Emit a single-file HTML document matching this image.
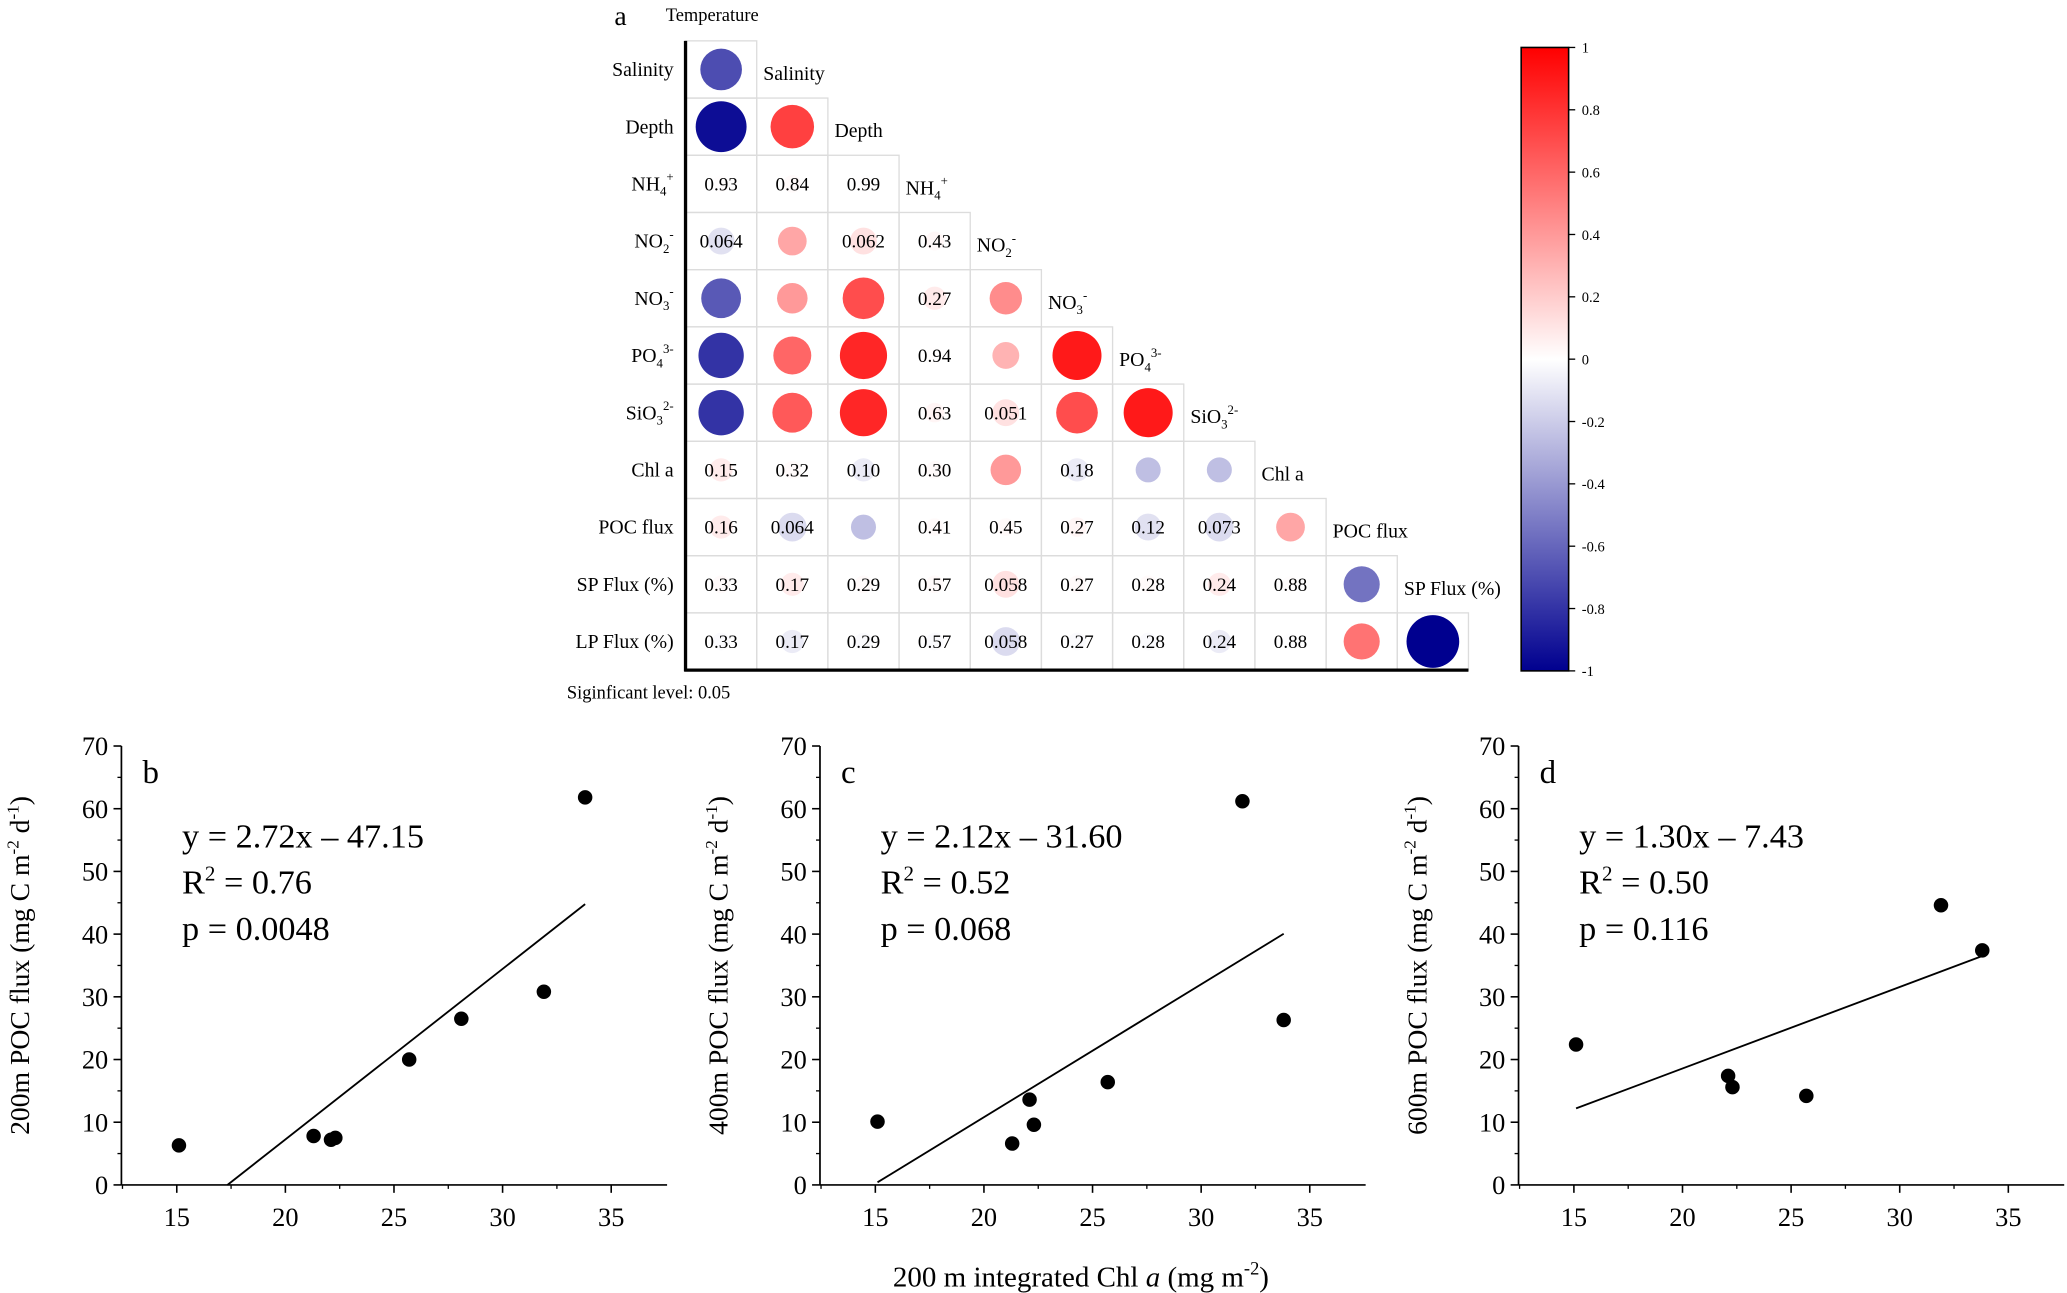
<!DOCTYPE html>
<html><head><meta charset="utf-8"><style>
html,body{margin:0;padding:0;background:#fff;}
svg{display:block;}
svg text{font-family:"Liberation Serif",serif;}
</style></head><body>
<svg id="fig" width="2067" height="1293" viewBox="0 0 1568 981" xmlns="http://www.w3.org/2000/svg" font-family="Liberation Serif, serif">
<defs><linearGradient id="cbg" x1="0" y1="1" x2="0" y2="0">
<stop offset="0" stop-color="#00008f"/><stop offset="0.5" stop-color="#ffffff"/><stop offset="1" stop-color="#ff0000"/></linearGradient></defs>
</svg>
<script>
// ---- correlation matrix data ----
const varNames = ["Temperature","Salinity","Depth","NH4+","NO2-","NO3-","PO43-","SiO32-","Chl a","POC flux","SP Flux (%)","LP Flux (%)"];
const corrR = [
 [-0.7],
 [-0.95,0.75],
 [0.02,0.05,0.01],
 [-0.3,0.35,0.3,0.08],
 [-0.65,0.4,0.7,0.2,0.45],
 [-0.8,0.6,0.85,0.01,0.3,0.9],
 [-0.8,0.65,0.85,0.1,0.3,0.7,0.9],
 [0.2,0.05,-0.2,0.05,0.4,-0.2,-0.25,-0.25],
 [0.2,-0.35,-0.25,0.05,0.05,0.1,-0.3,-0.35,0.35],
 [0.05,0.2,0.05,0.05,0.3,0.05,0.05,0.2,0.02,-0.55],
 [-0.05,-0.2,-0.05,-0.05,-0.35,-0.05,-0.05,-0.2,-0.02,0.55,-1]
];
const corrP = [
 [null],
 [null,null],
 ["0.93","0.84","0.99"],
 ["0.064",null,"0.062","0.43"],
 [null,null,null,"0.27",null],
 [null,null,null,"0.94",null,null],
 [null,null,null,"0.63","0.051",null,null],
 ["0.15","0.32","0.10","0.30",null,"0.18",null,null],
 ["0.16","0.064",null,"0.41","0.45","0.27","0.12","0.073",null],
 ["0.33","0.17","0.29","0.57","0.058","0.27","0.28","0.24","0.88",null],
 ["0.33","0.17","0.29","0.57","0.058","0.27","0.28","0.24","0.88",null,null]
];
const cbTicks = [1,0.8,0.6,0.4,0.2,0,-0.2,-0.4,-0.6,-0.8,-1];

// ---- scatter data ----
const chlB = [15.1,21.3,22.1,22.3,25.7,28.1,31.9,33.8];
const pocB = [6.3,7.8,7.2,7.5,20.0,26.5,30.8,61.8];
const chlC = [15.1,21.3,22.1,22.3,25.7,31.9,33.8];
const pocC = [10.1,6.6,13.6,9.6,16.4,61.2,26.3];
const chlD = [15.1,22.1,22.3,25.7,31.9,33.8];
const pocD = [22.4,17.4,15.6,14.2,44.6,37.4];
const slopes = [2.72,2.12,1.30];
const intercepts = [-47.15,-31.60,-7.43];
const fitRanges = [[17.33,33.8],[15.1,33.8],[15.1,33.8]];
const eqLabels = ["y = 2.72x \u2013 47.15","y = 2.12x \u2013 31.60","y = 1.30x \u2013 7.43"];
const r2Labels = ["0.76","0.52","0.50"];
const pLabels = ["p = 0.0048","p = 0.068","p = 0.116"];
const panelLetters = ["b","c","d"];
const depthLabels = ["200m","400m","600m"];
const xTicks = [15,20,25,30,35];
const yTicks = [0,10,20,30,40,50,60,70];

const NS="http://www.w3.org/2000/svg";
const svg=document.getElementById('fig');
function mk(tag,attrs,parent){const e=document.createElementNS(NS,tag);for(const k in attrs)e.setAttribute(k,attrs[k]);if(tag==='text')e.setAttribute('font-family','Liberation Serif, serif');(parent||svg).appendChild(e);return e;}
function color(r){
  if(r>=0){const g=Math.round(255*(1-r));return `rgb(255,${g},${g})`;}
  const t=-r;return `rgb(${Math.round(255*(1-t))},${Math.round(255*(1-t))},${Math.round(255-(255-143)*t)})`;
}
function labelText(parent,x,y,name,anchor,size){
  const t=mk('text',{x:x,y:y,'text-anchor':anchor,'font-size':size},parent);
  const m=name.match(/^([A-Za-z]+?)(\d)([+\-]|\d[+\-])$/);
  if(m){
    t.appendChild(document.createTextNode(m[1]));
    const s=mk('tspan',{dy:4,'font-size':size*0.65},t);s.textContent=m[2];
    const s2=mk('tspan',{dy:-11,'font-size':size*0.65},t);s2.textContent=m[3];
  } else t.textContent=name;
  return t;
}
// ---- matrix ----
const mx0=520,my0=31,cw=54,ch=43.4;
const mg=mk('g',{});


const pa=mk('text',{x:466,y:19,'font-size':21},mg);pa.textContent='a';

const tt=mk('text',{x:505,y:16,'font-size':14},mg);tt.textContent='Temperature';

for(let i=0;i<corrR.length;i++){
  const y=my0+i*ch,cy=y+ch/2;
  const rl=labelText(mg,511,cy+5,varNames[i+1],'end',15);
  
  if(i<corrR.length-1){
    const dl=labelText(mg,mx0+(i+1)*cw+5,cy+8,varNames[i+1],'start',15);
    
  }
  for(let j=0;j<=i;j++){
    const x=mx0+j*cw,cx=x+cw/2;
    const rc=mk('rect',{x:x,y:y,width:cw,height:ch,fill:'none',stroke:'#dcdcdc','stroke-width':1},mg);
    
    const r=corrR[i][j],p=corrP[i][j];
    const c=mk('circle',{cx:cx,cy:cy,r:6+14*Math.abs(r),fill:color(r),opacity:p?0.4:1},mg);
    
    if(p){const pt=mk('text',{x:cx,y:cy+5,'text-anchor':'middle','font-size':14.5},mg);pt.textContent=p;
      }
  }
}
const la=mk('line',{x1:mx0,y1:my0,x2:mx0,y2:my0+11*ch+1,stroke:'#000','stroke-width':2.5},mg);

const ba=mk('line',{x1:mx0-1,y1:my0+11*ch,x2:mx0+11*cw,y2:my0+11*ch,stroke:'#000','stroke-width':2.5},mg);

const sl=mk('text',{x:430,y:530,'font-size':14},mg);sl.textContent='Siginficant level: 0.05';

// colorbar
const cbx=1154,cbt=36,cbb=509;
const cb=mk('rect',{x:cbx,y:cbt,width:36,height:cbb-cbt,fill:'url(#cbg)',stroke:'#000','stroke-width':1.2});

cbTicks.forEach(v=>{
  const y=cbb-(v+1)/2*(cbb-cbt);
  const tl=mk('line',{x1:cbx+36,y1:y,x2:cbx+41,y2:y,stroke:'#000','stroke-width':1});
  
  const t=mk('text',{x:cbx+46,y:y+4,'font-size':11});t.textContent=v;
  
});
// ---- scatter panels ----
const panels=[[chlB,pocB],[chlC,pocC],[chlD,pocD]];
panels.forEach((d,k)=>{
  const ox=530*k, ax=92+ox, top=566, bot=899;
  const X=v=>ax+42+(v-15)*16.48, Y=v=>bot-v*(bot-top)/70;
  const g=mk('g',{});
  
  const yl=mk('line',{x1:ax,y1:top,x2:ax,y2:bot,stroke:'#000','stroke-width':1.3},g);
  
  const xl=mk('line',{x1:ax,y1:bot,x2:ax+414,y2:bot,stroke:'#000','stroke-width':1.3},g);
  
  yTicks.forEach(v=>{
    const tk=mk('line',{x1:ax-6,y1:Y(v),x2:ax,y2:Y(v),stroke:'#000','stroke-width':1.2},g);
    
    if(v<70){const mt=mk('line',{x1:ax-3,y1:Y(v+5),x2:ax,y2:Y(v+5),stroke:'#000','stroke-width':1},g);
      }
    const t=mk('text',{x:ax-10,y:Y(v)+7,'text-anchor':'end','font-size':20},g);t.textContent=v;
    
  });
  xTicks.forEach(v=>{
    const tk=mk('line',{x1:X(v),y1:bot,x2:X(v),y2:bot+6,stroke:'#000','stroke-width':1.2},g);
    
    const mt=mk('line',{x1:X(v-2.5),y1:bot,x2:X(v-2.5),y2:bot+3,stroke:'#000','stroke-width':1},g);
    
    const t=mk('text',{x:X(v),y:bot+31,'text-anchor':'middle','font-size':20},g);t.textContent=v;
    
  });
  const [f0,f1]=fitRanges[k];
  const fl=mk('line',{x1:X(f0),y1:Y(slopes[k]*f0+intercepts[k]),x2:X(f1),y2:Y(slopes[k]*f1+intercepts[k]),stroke:'#000','stroke-width':1.4},g);
  
  d[0].forEach((x,i)=>{
    const c=mk('circle',{cx:X(x),cy:Y(d[1][i]),r:5.5,fill:'#000'},g);
    
  });
  const pl=mk('text',{x:ax+16,y:594,'font-size':25},g);pl.textContent=panelLetters[k];
  
  const e=mk('text',{x:ax+46,y:643,'font-size':26},g);e.textContent=eqLabels[k];
  
  const r2=mk('text',{x:ax+46,y:678,'font-size':26},g);
  r2.appendChild(document.createTextNode('R'));
  const sp=mk('tspan',{dy:-10,'font-size':16},r2);sp.textContent='2';
  const sp2=mk('tspan',{dy:10},r2);sp2.textContent=' = '+r2Labels[k];
  
  const pp=mk('text',{x:ax+46,y:713,'font-size':26},g);pp.textContent=pLabels[k];
  
  const yt=mk('text',{x:0,y:0,'text-anchor':'middle','font-size':21,transform:`translate(${ax-70},${(top+bot)/2}) rotate(-90)`},g);
  yt.appendChild(document.createTextNode(depthLabels[k]+' POC flux (mg C m'));
  const a=mk('tspan',{dy:-8,'font-size':13},yt);a.textContent='-2';
  const b=mk('tspan',{dy:8},yt);b.textContent=' d';
  const c2=mk('tspan',{dy:-8,'font-size':13},yt);c2.textContent='-1';
  const d2=mk('tspan',{dy:8},yt);d2.textContent=')';
  
});
const xt=mk('text',{x:820,y:976,'text-anchor':'middle','font-size':22});
xt.appendChild(document.createTextNode('200 m integrated Chl '));
const it=mk('tspan',{'font-style':'italic'},xt);it.textContent='a';
const x2=mk('tspan',{},xt);x2.textContent=' (mg m';
const x3=mk('tspan',{dy:-9,'font-size':14},xt);x3.textContent='-2';
const x4=mk('tspan',{dy:9},xt);x4.textContent=')';

</script>
</body></html>
